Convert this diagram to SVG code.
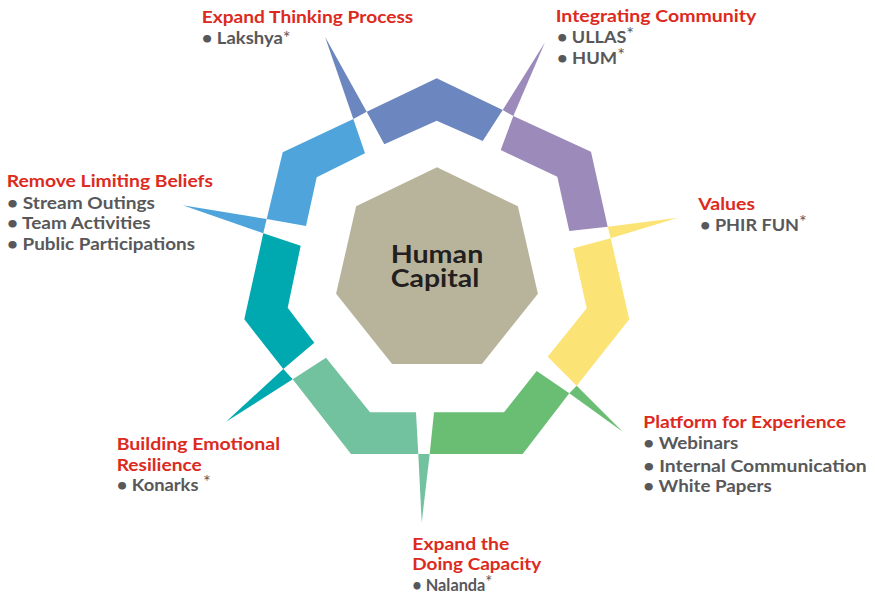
<svg xmlns="http://www.w3.org/2000/svg" width="875" height="595" viewBox="0 0 875 595">
<style>
.t{font-family:Lato,"Open Sans","Liberation Sans",sans-serif;font-weight:700;font-size:17.5px}
.h{fill:#dc2a20}
.b{fill:#58585a}
.s{font-weight:400}
.c{font-family:Lato,"Open Sans","Liberation Sans",sans-serif;font-weight:700;font-size:25px;fill:#231f20}
</style>
<rect width="875" height="595" fill="#ffffff"/>
<g id="connectors">
<polygon points="325,36.7 353.3,119 366.7,111.7" fill="#6c87bf"/>
<polygon points="545,42.3 502.7,110 513.3,116" fill="#9b8aba"/>
<polygon points="678,217.7 607.7,226.7 610.7,238.3" fill="#fbe475"/>
<polygon points="622.7,431.7 576.7,385.7 569.3,393.3" fill="#6abe74"/>
<polygon points="421.7,522.7 418.3,454 429.7,454" fill="#73c29f"/>
<polygon points="226,421.7 283.3,369 292.7,379.3" fill="#00a9b0"/>
<polygon points="182.7,205.3 266.7,219 263.3,233.3" fill="#4fa5db"/>
</g>
<g id="center">
<polygon points="437,167.3 517.9,206.3 537.9,293.8 481.9,364.1 392.1,364.1 336.1,293.8 356.1,206.3" fill="#b8b49c"/>
<text class="c" x="437" y="263.3" text-anchor="middle" textLength="92.6" lengthAdjust="spacingAndGlyphs">Human</text>
<text class="c" x="435" y="286.5" text-anchor="middle" textLength="88.6" lengthAdjust="spacingAndGlyphs">Capital</text>
</g>
<g id="expand-thinking">
<polygon points="366.7,111.7 436.7,78.3 502.7,110 482.7,141 436.7,120.7 384.3,144.3" fill="#6c87bf"/>
<text class="t h" x="201.7" y="23" textLength="211.6" lengthAdjust="spacingAndGlyphs">Expand Thinking Process</text>
<text class="t b" x="201.7" y="44" textLength="89" lengthAdjust="spacingAndGlyphs">• Lakshya<tspan class="s">*</tspan></text>
</g>
<g id="integrating-community">
<polygon points="513.3,116 591,151.7 607.7,226.7 569.3,231 557.3,176.7 500.7,150" fill="#9b8aba"/>
<text class="t h" x="555.7" y="22" textLength="200.5" lengthAdjust="spacingAndGlyphs">Integrating Community</text>
<text class="t b" x="557" y="42.5" textLength="77" lengthAdjust="spacingAndGlyphs">• ULLAS<tspan class="s" dy="-3">*</tspan></text>
<text class="t b" x="557" y="63.5" textLength="68" lengthAdjust="spacingAndGlyphs">• HUM<tspan class="s" dy="-3">*</tspan></text>
</g>
<g id="values">
<polygon points="610.7,238.3 629.3,319.3 576.7,385.7 547.7,356.7 586.7,308.3 573.3,248.3" fill="#fbe475"/>
<text class="t h" x="698.3" y="210" textLength="56.7" lengthAdjust="spacingAndGlyphs">Values</text>
<text class="t b" x="700" y="230.7" textLength="106.7" lengthAdjust="spacingAndGlyphs">• PHIR FUN<tspan class="s" dy="-3">*</tspan></text>
</g>
<g id="platform-experience">
<polygon points="569.3,393.3 522.7,454 429.7,454 434,412.3 504,412.3 536.7,371" fill="#6abe74"/>
<text class="t h" x="643.3" y="428.3" textLength="202.7" lengthAdjust="spacingAndGlyphs">Platform for Experience</text>
<text class="t b" x="643.3" y="449.3" textLength="95" lengthAdjust="spacingAndGlyphs">• Webinars</text>
<text class="t b" x="643.3" y="471.5" textLength="223.4" lengthAdjust="spacingAndGlyphs">• Internal Communication</text>
<text class="t b" x="643.3" y="492.3" textLength="128.4" lengthAdjust="spacingAndGlyphs">• White Papers</text>
</g>
<g id="expand-doing">
<polygon points="418.3,454 351,454 292.7,379.3 326,357.7 370,412.3 416,412.3" fill="#73c29f"/>
<text class="t h" x="412.3" y="549.5" textLength="97" lengthAdjust="spacingAndGlyphs">Expand the</text>
<text class="t h" x="412.3" y="570" textLength="129" lengthAdjust="spacingAndGlyphs">Doing Capacity</text>
<text class="t b" x="412.3" y="590.5" textLength="80" lengthAdjust="spacingAndGlyphs">• Nalanda<tspan class="s" dy="-3">*</tspan></text>
</g>
<g id="building-resilience">
<polygon points="283.3,369 244.3,319.3 263.3,233.3 300.7,245.7 287.7,307.7 314.3,342.7" fill="#00a9b0"/>
<text class="t h" x="116.7" y="450" textLength="163.3" lengthAdjust="spacingAndGlyphs">Building Emotional</text>
<text class="t h" x="116.7" y="470.7" textLength="85" lengthAdjust="spacingAndGlyphs">Resilience</text>
<text class="t b" x="116.7" y="491" textLength="94" lengthAdjust="spacingAndGlyphs">• Konarks <tspan class="s" dy="-3">*</tspan></text>
</g>
<g id="remove-beliefs">
<polygon points="266.7,219 282.7,152.3 353.3,119 365,153.3 316.7,177.3 306,226" fill="#4fa5db"/>
<text class="t h" x="6.7" y="186.7" textLength="206.3" lengthAdjust="spacingAndGlyphs">Remove Limiting Beliefs</text>
<text class="t b" x="7" y="209.3" textLength="148" lengthAdjust="spacingAndGlyphs">• Stream Outings</text>
<text class="t b" x="7" y="229.3" textLength="143.7" lengthAdjust="spacingAndGlyphs">• Team Activities</text>
<text class="t b" x="7" y="250" textLength="188" lengthAdjust="spacingAndGlyphs">• Public Participations</text>
</g>
</svg>
